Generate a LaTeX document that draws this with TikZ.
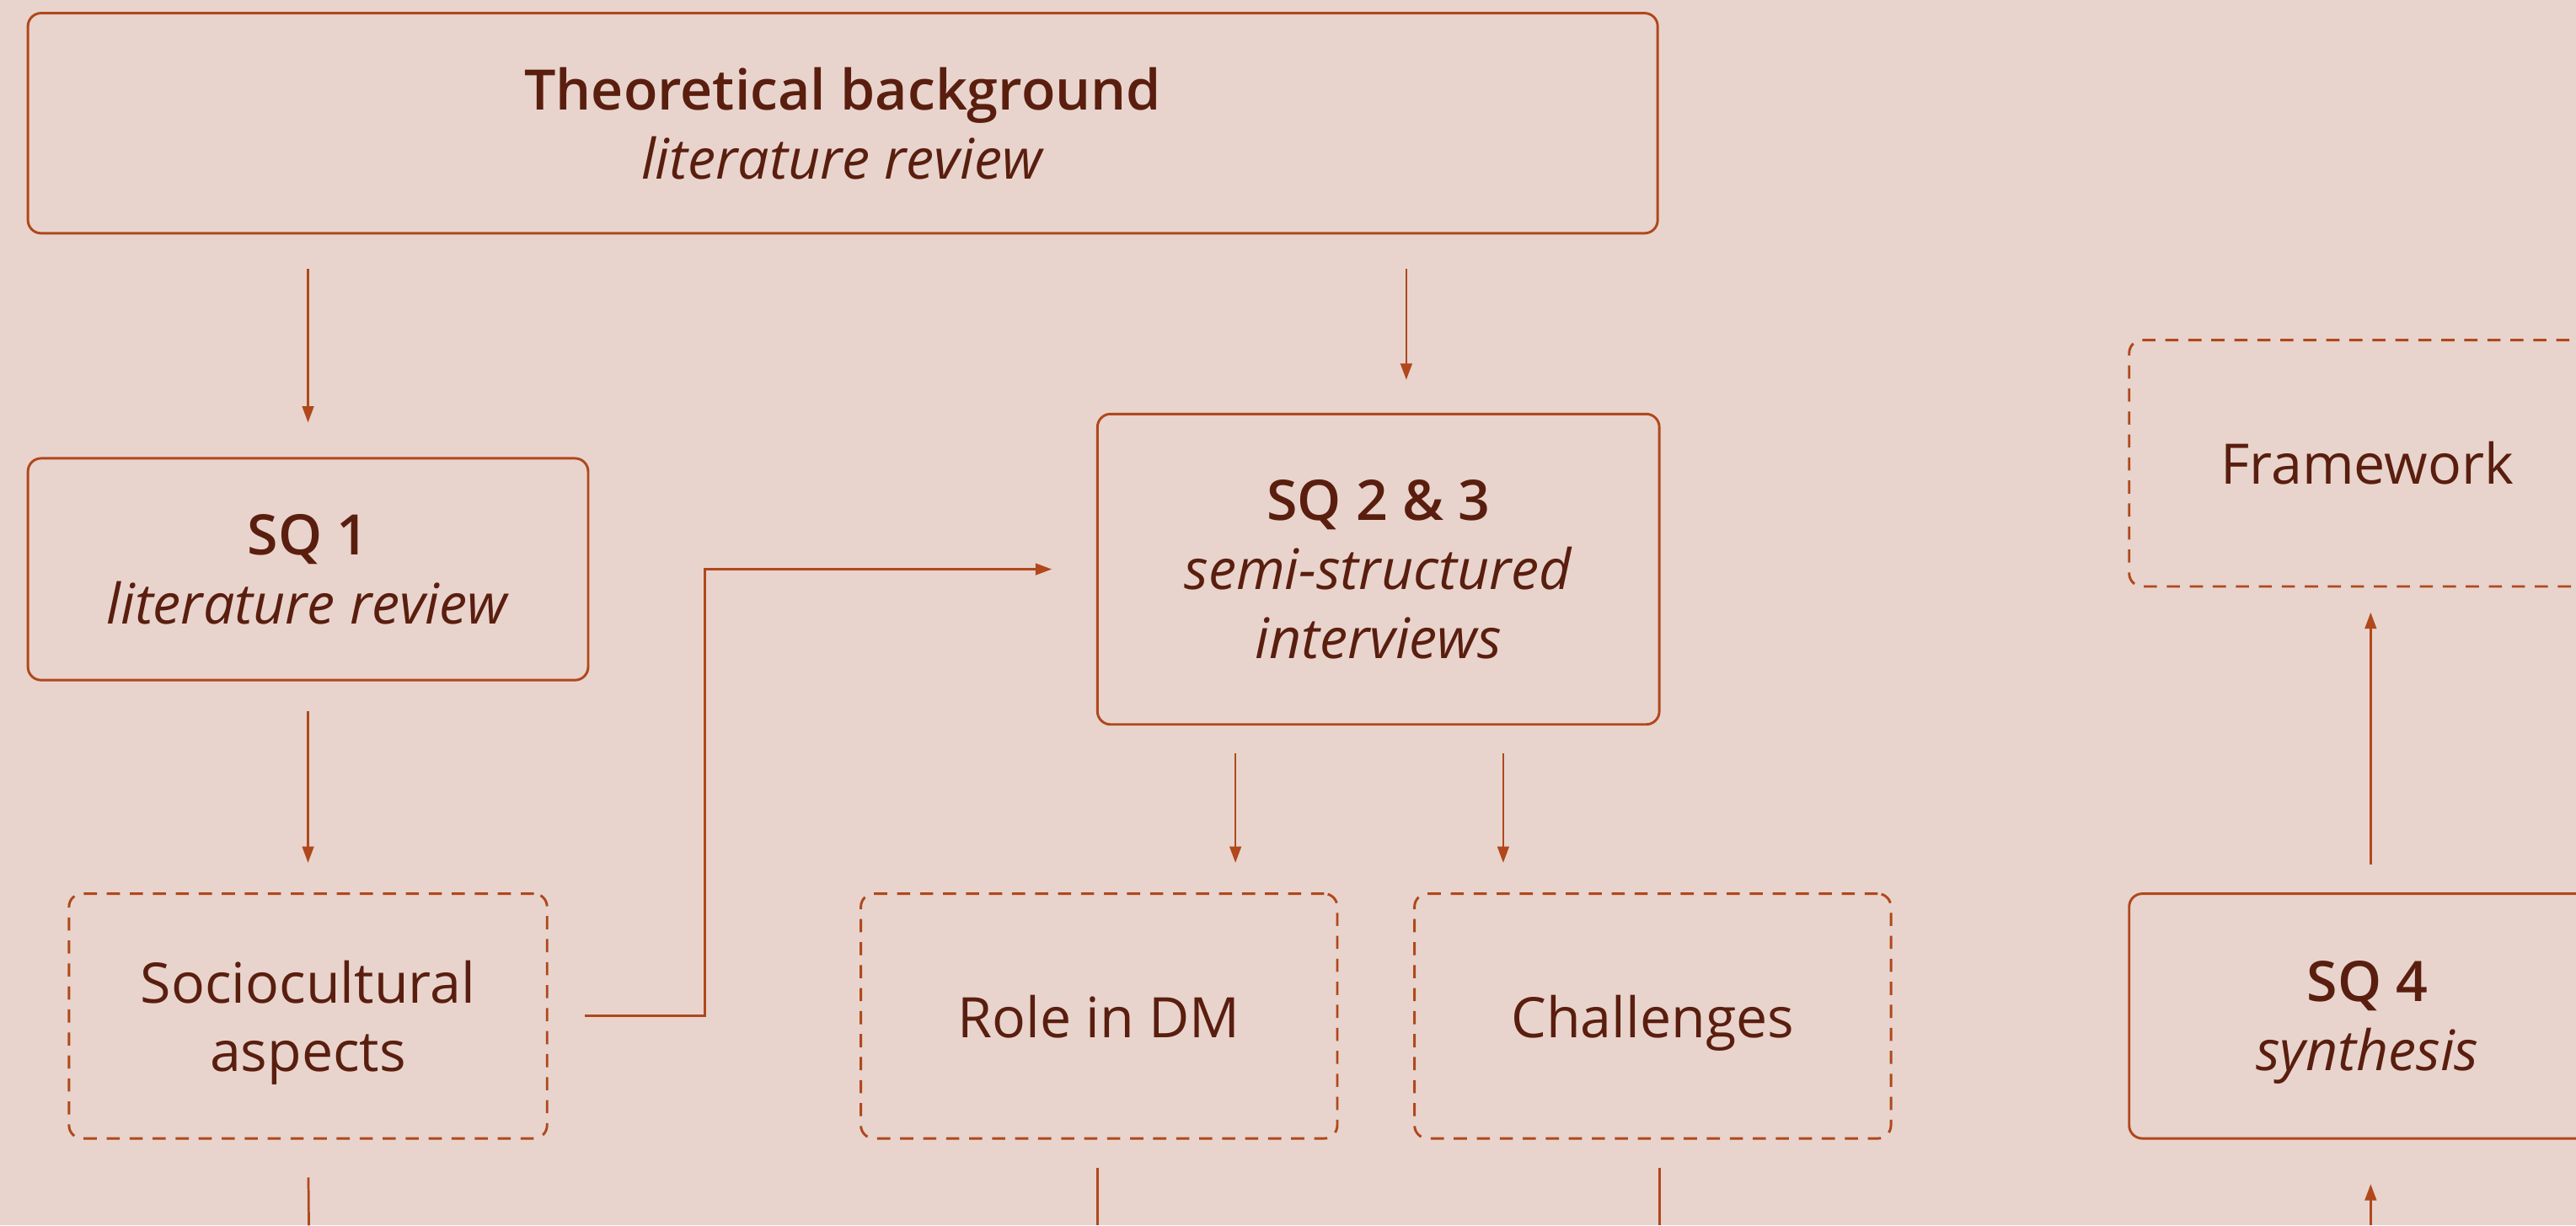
\documentclass[tikz,border=0pt]{standalone}
\usepackage{fontspec}
\setmainfont{Open Sans}[BoldFont={Open Sans Semibold}]
\usetikzlibrary{arrows.meta}
\definecolor{bgcol}{RGB}{232,212,205}
\definecolor{linecol}{RGB}{176,72,28}
\definecolor{textcol}{RGB}{90,30,15}
\tikzset{
  x=1pt, y=-1pt,
  box/.style={draw=linecol, line width=1.5pt, rounded corners=8pt,
    text=textcol, align=center, inner sep=0pt, text depth=0pt,
    font=\fontsize{34}{42}\selectfont},
  solidbox/.style={box},
  dashbox/.style={box, dash pattern=on 8pt off 6pt},
  conn/.style={draw=linecol, line width=1.4pt},
  arr/.style={conn, -{Triangle[length=10pt,width=7pt]}},
}
\begin{document}
\begin{tikzpicture}
  \fill[bgcol] (0,0) rectangle (1568,746);
  \clip (0,0) rectangle (1568,746);

  % boxes
  \node[solidbox, minimum width=992pt, minimum height=134pt] (theory) at (513,75)
    {\textbf{Theoretical background}\\\textit{literature review}};
  \node[solidbox, minimum width=341pt, minimum height=135pt] (sq1) at (187.5,346.5)
    {\textbf{SQ 1}\\\textit{literature review}};
  \node[solidbox, minimum width=342pt, minimum height=189pt] (sq23) at (839,346.5)
    {\textbf{SQ 2 \& 3}\\\textit{semi-structured}\\\textit{interviews}};
  \node[dashbox, minimum width=291pt, minimum height=149pt] (socio) at (187.5,618.5)
    {Sociocultural\\aspects};
  \node[dashbox, minimum width=290pt, minimum height=149pt] (role) at (669,618.5)
    {Role in DM};
  \node[dashbox, minimum width=290pt, minimum height=149pt] (chal) at (1006,618.5)
    {Challenges};
  \node[dashbox, minimum width=290pt, minimum height=150pt] (frame) at (1441,282)
    {Framework};
  \node[solidbox, minimum width=290pt, minimum height=149pt] (sq4) at (1441,618.5)
    {\textbf{SQ 4}\\\textit{synthesis}};

  % free ends at the lower edge
  \coordinate (outS) at (188,746);
  \coordinate (outR) at (668,746);
  \coordinate (outC) at (1010,746);
  \coordinate (outQ) at (1443,746);

  % connectors
  \draw[arr, shorten <=21pt, shorten >=21pt] (theory.south -| sq1) -- (sq1.north);
  \draw[arr, shorten <=21pt, shorten >=20pt] (theory.south -| 856,0) -- (sq23.north -| 856,0);
  \draw[arr, shorten <=18pt, shorten >=18pt] (sq1.south) -- (socio.north);
  \draw[arr, shorten <=17pt, shorten >=18pt] (sq23.south -| 752,0) -- (role.north -| 752,0);
  \draw[arr, shorten <=17pt, shorten >=18pt] (sq23.south -| 915,0) -- (chal.north -| 915,0);
  \draw[arr, shorten <=22pt, shorten >=27pt] (socio.east) -- (socio.east -| 429,0) |- (sq23.west);
  \draw[arr, shorten <=17pt, shorten >=15pt] (sq4.north -| 1443,0) -- (frame.south -| 1443,0);
  \draw[conn, shorten <=23pt] (socio.south) -- (outS);
  \draw[conn, shorten <=17pt] (role.south -| outR) -- (outR);
  \draw[conn, shorten <=17pt] (chal.south -| outC) -- (outC);
  \draw[arr, shorten >=27pt] (outQ) -- (sq4.south -| outQ);
\end{tikzpicture}
\end{document}
